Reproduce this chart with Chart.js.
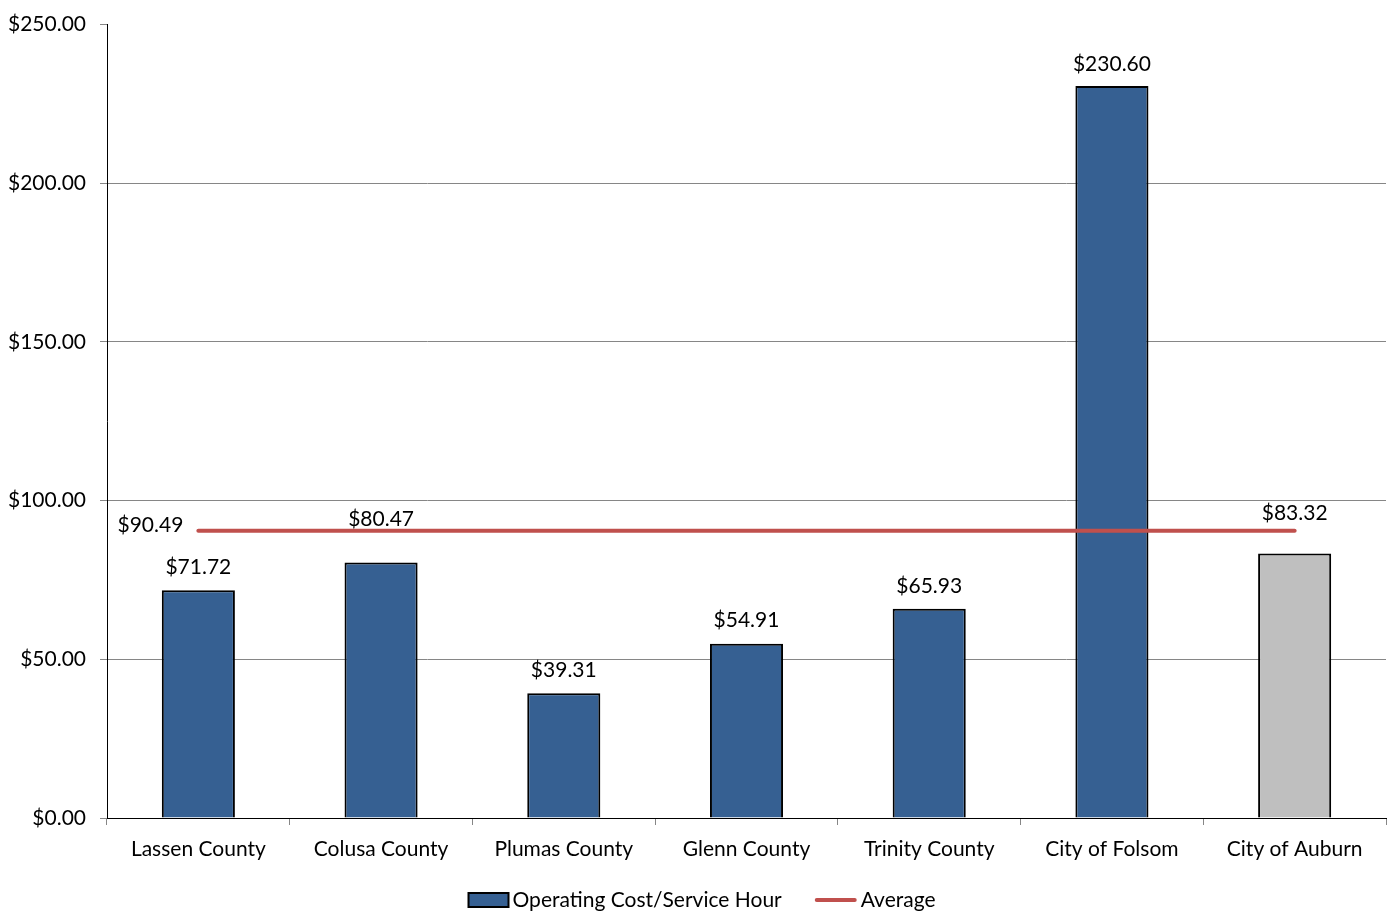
<!DOCTYPE html>
<html>
<head>
<meta charset="utf-8">
<title>Operating Cost per Service Hour</title>
<script src="https://cdn.jsdelivr.net/npm/chart.js@4/dist/chart.umd.min.js"></script>
<style>
  html, body { margin: 0; padding: 0; background: #fff; }
  #wrap { width: 1392px; height: 914px; }
</style>
</head>
<body>
<div id="wrap"><canvas id="myChart" width="1392" height="914"></canvas></div>
<script>
// systems compared
const categories = [
  "Lassen County", "Colusa County", "Plumas County", "Glenn County",
  "Trinity County", "City of Folsom", "City of Auburn"
];
// operating cost per service hour, dollars
const costPerHour = [71.72, 80.47, 39.31, 54.91, 65.93, 230.60, 83.32];
// peer group average
const averageCost = 90.49;
const yTicks = [0, 50, 100, 150, 200, 250];

const FONT = "Lato, 'DejaVu Sans', sans-serif";
const FONT_SIZE = 21;
const BLUE = "#366092";
const GREY = "#BFBFBF";
const RED = "#C0504D";

// the subject system (Auburn) is shown in grey
const barColors = categories.map((c, i) => (i === categories.length - 1 ? GREY : BLUE));
// how far above the bar top each value label sits (pixels)
const labelLift = [23, 43, 23, 23, 23, 22, 40];

function money(v) {
  return "$" + v.toFixed(2);
}

// value labels above bars + the average label at the start of the line
const valueLabels = {
  id: "valueLabels",
  afterDatasetsDraw(chart) {
    const ctx = chart.ctx;
    ctx.save();
    ctx.font = FONT_SIZE + "px " + FONT;
    ctx.fillStyle = "#000";
    ctx.textBaseline = "middle";

    const bars = chart.getDatasetMeta(0).data;
    ctx.textAlign = "center";
    bars.forEach((bar, i) => {
      ctx.fillText(money(costPerHour[i]), bar.x, bar.y - labelLift[i]);
    });

    const first = chart.getDatasetMeta(1).data[0];
    ctx.textAlign = "right";
    ctx.fillText(money(averageCost), first.x - 15, first.y - 6);
    ctx.restore();
  }
};

// legend along the bottom: filled box for the bars, short line for the average
const bottomLegend = {
  id: "bottomLegend",
  afterDraw(chart) {
    const ctx = chart.ctx;
    const ds = chart.data.datasets;
    ctx.save();
    ctx.font = FONT_SIZE + "px " + FONT;
    ctx.textBaseline = "middle";
    ctx.textAlign = "left";
    const y = 900;
    const w1 = ctx.measureText(ds[0].label).width;
    const w2 = ctx.measureText(ds[1].label).width;
    const total = 40 + 4 + w1 + 35 + 42 + 4 + w2;
    let x = chart.width / 2 - total / 2 + 7;

    ctx.fillStyle = BLUE;
    ctx.fillRect(x, y - 7, 40, 14);
    ctx.strokeStyle = "#000";
    ctx.lineWidth = 2;
    ctx.strokeRect(x, y - 7, 40, 14);
    x += 44;
    ctx.fillStyle = "#000";
    ctx.fillText(ds[0].label, x, y);
    x += w1 + 33;

    ctx.strokeStyle = RED;
    ctx.lineWidth = 4;
    ctx.lineCap = "round";
    ctx.beginPath();
    ctx.moveTo(x + 2, y);
    ctx.lineTo(x + 40, y);
    ctx.stroke();
    x += 46;
    ctx.fillText(ds[1].label, x, y);
    ctx.restore();
  }
};

function makeChart() {
  const ctx = document.getElementById("myChart");
  new Chart(ctx, {
    type: "bar",
    data: {
      labels: categories,
      datasets: [
        {
          type: "bar",
          label: "Operating Cost/Service Hour",
          data: costPerHour,
          backgroundColor: barColors,
          borderColor: "#000",
          borderWidth: 2,
          barPercentage: 0.4,
          categoryPercentage: 1,
          order: 2
        },
        {
          type: "line",
          label: "Average",
          data: categories.map(() => averageCost),
          borderColor: RED,
          borderWidth: 4,
          borderCapStyle: "round",
          pointRadius: 0,
          fill: false,
          order: 1
        }
      ]
    },
    options: {
      responsive: false,
      animation: false,
      layout: { padding: { top: 7, right: 6, left: 0, bottom: 0 } },
      plugins: {
        legend: { display: false },
        tooltip: { enabled: false }
      },
      scales: {
        x: {
          offset: true,
          border: { color: "#000", width: 1 },
          grid: {
            display: true,
            offset: true,
            drawOnChartArea: false,
            drawTicks: true,
            tickLength: 7,
            tickColor: "#868686"
          },
          ticks: {
            color: "#000",
            font: { family: FONT, size: FONT_SIZE },
            padding: 12,
            maxRotation: 0
          },
          afterFit(scale) {
            scale.height = 96;
          }
        },
        y: {
          min: 0,
          max: 250,
          afterBuildTicks(scale) {
            scale.ticks = yTicks.map((v) => ({ value: v }));
          },
          border: { color: "#000", width: 1 },
          grid: {
            color: (c) => (c.tick && c.tick.value === 250 ? "rgba(0,0,0,0)" : "#868686"),
            lineWidth: 1,
            tickLength: 7,
            tickColor: "#868686"
          },
          ticks: {
            color: "#000",
            font: { family: FONT, size: FONT_SIZE, lineHeight: 1 },
            padding: 14,
            callback: (v) => money(v)
          },
          afterFit(scale) {
            scale.width = 107;
          }
        }
      }
    },
    plugins: [valueLabels, bottomLegend]
  });
}

makeChart();
</script>
</body>
</html>
